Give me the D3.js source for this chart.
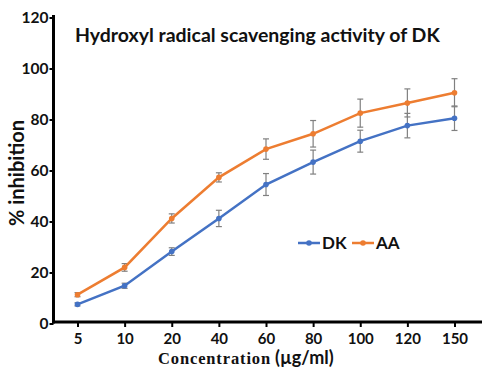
<!DOCTYPE html>
<html><head><meta charset="utf-8">
<script src="https://cdn.jsdelivr.net/npm/d3@7"></script>
<style>body{margin:0;background:#fff}svg{display:block}</style>
</head><body>
<script>
const categories = ["5","10","20","40","60","80","100","120","150"];
const dkValues = [7.5,14.8,28.2,41.2,54.5,63.3,71.5,77.6,80.5];
const dkErrors = [0.6,1.0,1.5,3.2,4.3,4.7,4.3,4.8,4.8];
const aaValues = [11.3,22.0,41.2,57.3,68.4,74.4,82.5,86.5,90.5];
const aaErrors = [0.8,1.5,1.8,1.8,4.0,5.2,5.5,5.5,5.5];
const yTicks = [0,20,40,60,80,100,120];
const seriesNames = ["DK","AA"];

const W=482,H=381;
const svg=d3.select("body").append("svg").attr("width",W).attr("height",H);
const x=d3.scalePoint().domain(categories).range([77.5,454.5]);
const y=d3.scaleLinear().domain([0,120]).range([323.5,17.5]);
const colors={DK:"#4472C4",AA:"#ED7D31"};
const sans="Lato, 'Open Sans', sans-serif";

// axes
const xAxis=svg.append("g").attr("transform","translate(0,322)")
  .call(d3.axisBottom(x).tickSize(5).tickSizeOuter(0).tickFormat(d=>d));
xAxis.select(".domain").remove();
xAxis.selectAll(".tick line").attr("stroke","#000").attr("stroke-width",2);
xAxis.selectAll(".tick text").attr("dy",0).attr("y",21.5).attr("font-family",sans).attr("font-weight","bold").attr("font-size",15).attr("fill","#111");
svg.append("line").attr("x1",52).attr("x2",482).attr("y1",322).attr("y2",322).attr("stroke","#000").attr("stroke-width",3);

const yAxis=svg.append("g").attr("transform","translate(53.5,0)")
  .call(d3.axisLeft(y).tickValues(yTicks).tickSize(4).tickSizeOuter(0));
yAxis.select(".domain").remove();
yAxis.selectAll(".tick line").attr("stroke","#000").attr("stroke-width",2);
yAxis.selectAll(".tick text").attr("x",-5).attr("font-family",sans).attr("font-weight","bold").attr("font-size",15.5).attr("fill","#111");
svg.append("line").attr("x1",53.5).attr("x2",53.5).attr("y1",15).attr("y2",323.5).attr("stroke","#000").attr("stroke-width",3);

// series
const data=[{name:"DK",v:dkValues,e:dkErrors},{name:"AA",v:aaValues,e:aaErrors}];
const line=d3.line().x((d,i)=>x(categories[i])).y(d=>y(d));
data.forEach(s=>{
  const g=svg.append("g");
  s.v.forEach((v,i)=>{
    const cx=x(categories[i]), y1=y(v+s.e[i]), y2=y(v-s.e[i]);
    g.append("line").attr("x1",cx).attr("x2",cx).attr("y1",y1).attr("y2",y2).attr("stroke","#808080").attr("stroke-width",1.2);
    [y1,y2].forEach(yy=>g.append("line").attr("x1",cx-3).attr("x2",cx+3).attr("y1",yy).attr("y2",yy).attr("stroke","#808080").attr("stroke-width",1.2));
  });
  g.append("path").datum(s.v).attr("d",line).attr("fill","none").attr("stroke",colors[s.name]).attr("stroke-width",2.5);
  g.selectAll("circle").data(s.v).join("circle").attr("cx",(d,i)=>x(categories[i])).attr("cy",d=>y(d)).attr("r",2.8).attr("fill",colors[s.name]);
});

// title
const title=svg.append("text").attr("x",75).attr("y",41.5).attr("font-family",sans).attr("font-weight","bold").attr("font-size",19).attr("fill","#111")
  .text("Hydroxyl radical scavenging activity of DK");
const tw=title.node().getComputedTextLength();
title.attr("font-size",19*365/tw);

// y label
svg.append("text").attr("transform","translate(24,173) rotate(-90)").attr("text-anchor","middle")
  .attr("font-family",sans).attr("font-weight","bold").attr("font-size",20).attr("fill","#111").text("% inhibition");

// x label
const xl1=svg.append("text").attr("x",158).attr("y",363.5).attr("font-weight","bold").attr("fill","#111")
  .attr("font-family","'Liberation Serif','Times New Roman',serif").attr("font-size",16.5).text("Concentration");
const n1=13, w1=xl1.node().getComputedTextLength();
xl1.attr("letter-spacing",Math.max(0,(113-w1)/n1));
const xl2=svg.append("text").attr("x",275).attr("y",363.5).attr("font-weight","bold").attr("fill","#111")
  .attr("font-family",sans).attr("font-size",16).text("(µg/ml)");
xl2.attr("font-size",Math.min(18,16*59/xl2.node().getComputedTextLength()));

// legend
const leg=[{name:"DK",x:298},{name:"AA",x:352}];
leg.forEach(l=>{
  svg.append("line").attr("x1",l.x).attr("x2",l.x+22).attr("y1",243).attr("y2",243).attr("stroke",colors[l.name]).attr("stroke-width",2.5);
  svg.append("circle").attr("cx",l.x+11).attr("cy",243).attr("r",2.8).attr("fill",colors[l.name]);
  svg.append("text").attr("x",l.x+24).attr("y",249).attr("font-family",sans).attr("font-weight","bold").attr("font-size",17).attr("fill","#111").text(l.name);
});
</script>
</body></html>
